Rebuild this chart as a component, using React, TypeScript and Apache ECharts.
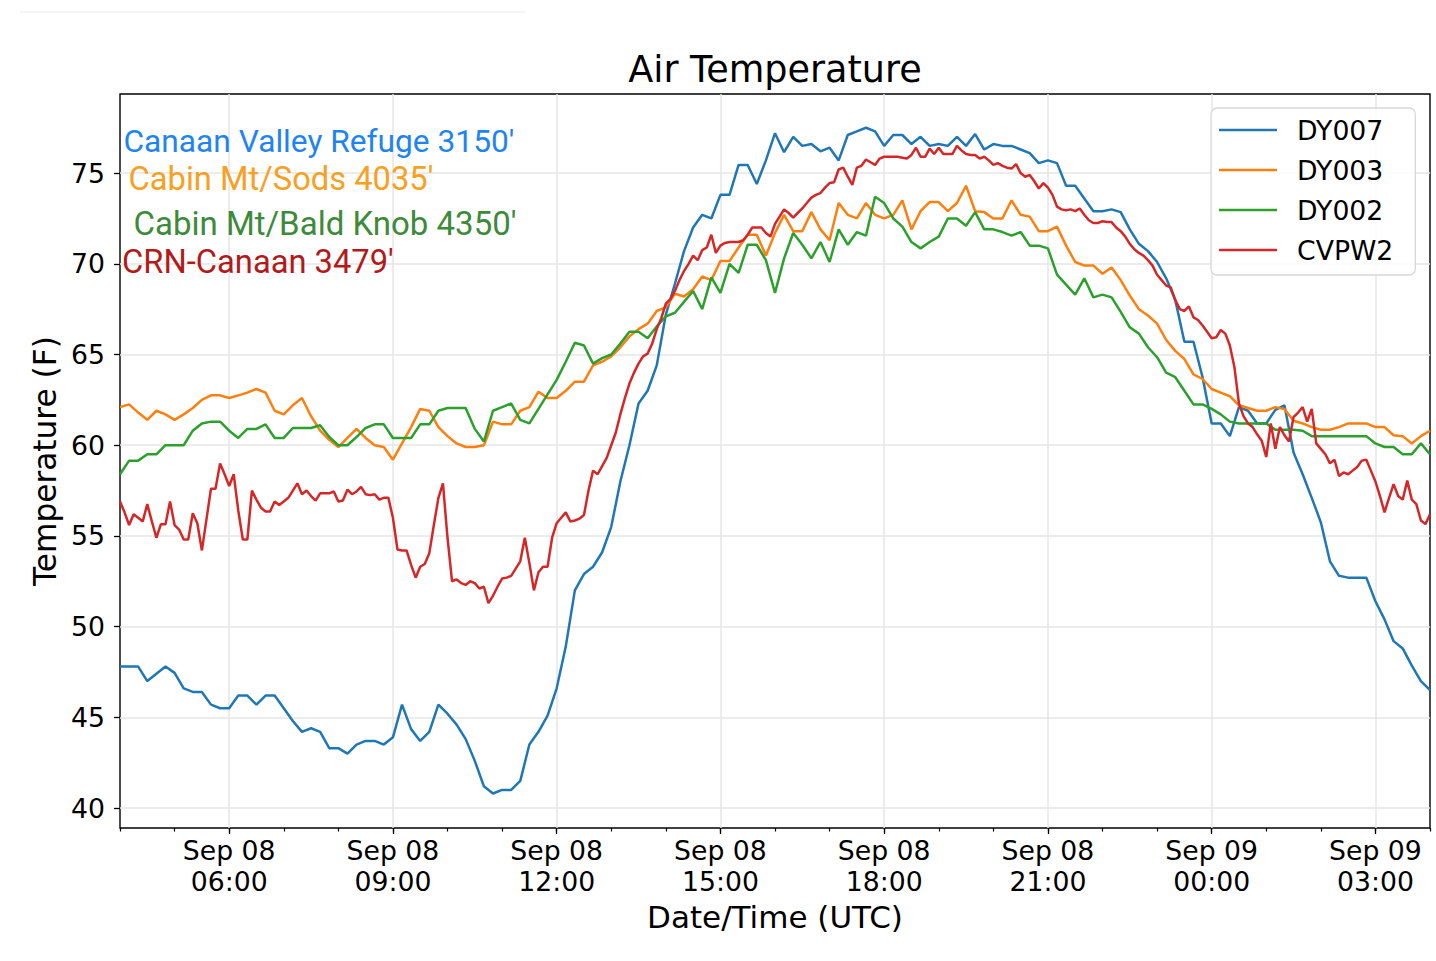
import * as echarts from "echarts";
import { useEffect, useRef } from "react";

// time is counted in hours after Sep 08 00:00 UTC
const startHour = 4;
const endHour = 28;
const dyStepMin = 10;
const cvpw2StepMin = 5;

// DY007, 10 min steps from 04:00
const dy007 = [
  47.8, 47.8, 47.8, 47.0, 47.4, 47.8, 47.45, 46.6, 46.4, 46.4,
  45.7, 45.5, 45.5, 46.2, 46.2, 45.7, 46.2, 46.2, 45.5, 44.8,
  44.2, 44.4, 44.2, 43.3, 43.3, 43.0, 43.5, 43.7, 43.7, 43.5,
  43.9, 45.7, 44.35, 43.7, 44.2, 45.7, 45.2, 44.6, 43.8, 42.6,
  41.2, 40.8, 41.0, 41.0, 41.5, 43.5, 44.2, 45.1, 46.6, 48.9,
  52.0, 52.9, 53.3, 54.1, 55.5, 58.0, 60.0, 62.3, 63.0, 64.4,
  67.2, 68.9, 70.7, 72.0, 72.7, 72.5, 73.8, 73.8, 75.45, 75.45,
  74.4, 75.7, 77.2, 76.15, 77.0, 76.5, 76.6, 76.2, 76.4, 75.7,
  77.1, 77.3, 77.5, 77.3, 76.5, 77.1, 77.1, 76.6, 77.0, 76.5,
  76.6, 76.5, 77.0, 76.5, 77.15, 76.3, 76.6, 76.5, 76.5, 76.3,
  76.1, 75.55, 75.7, 75.55, 74.3, 74.3, 73.6, 72.9, 72.9, 73.0,
  72.85, 71.9, 71.1, 70.7, 70.1, 69.2, 68.0, 65.7, 65.7, 63.75,
  61.2, 61.2, 60.5, 62.1, 61.9, 61.2, 61.2, 61.95, 62.2, 59.6,
  58.4, 57.1, 55.75, 53.6, 52.8, 52.7, 52.7, 52.7, 51.4, 50.4,
  49.2, 48.8, 47.85, 47.0, 46.5,
];

// DY003, 10 min steps
const dy003 = [
  62.1, 62.25, 61.8, 61.4, 61.9, 61.7, 61.4, 61.7, 62.05, 62.5,
  62.75, 62.75, 62.6, 62.75, 62.9, 63.1, 62.9, 61.9, 61.7, 62.2,
  62.6, 61.6, 60.8, 60.3, 59.9, 60.4, 60.9, 60.4, 60.0, 59.9,
  59.2, 60.1, 61.0, 62.0, 61.9, 61.0, 60.5, 60.1, 59.9, 59.9,
  60.0, 61.3, 61.15, 61.15, 61.9, 62.1, 62.95, 62.6, 62.6, 63.0,
  63.5, 63.5, 64.4, 64.6, 64.9, 65.4, 66.0, 66.4, 66.7, 67.4,
  67.6, 68.35, 68.2, 68.6, 69.3, 69.1, 70.15, 70.15, 70.9, 71.6,
  71.6, 70.45, 71.7, 72.7, 71.8, 71.8, 72.85, 71.9, 71.3, 73.35,
  72.7, 72.5, 73.35, 72.7, 72.5, 72.7, 73.5, 71.9, 72.9, 73.4,
  73.4, 72.9, 73.35, 74.3, 72.9, 72.85, 72.5, 72.5, 73.5, 72.7,
  72.6, 71.8, 71.8, 72.05, 71.0, 70.1, 69.9, 69.9, 69.45, 69.8,
  69.1, 68.25, 67.5, 67.15, 66.7, 65.8, 65.2, 64.75, 63.9, 63.65,
  63.1, 62.9, 62.7, 62.2, 62.05, 61.9, 61.9, 62.1, 62.0, 61.35,
  61.2, 61.0, 60.85, 60.85, 61.0, 61.2, 61.2, 61.2, 61.0, 61.0,
  60.55, 60.5, 60.1, 60.5, 60.8,
];

// DY002, 10 min steps
const dy002 = [
  58.4, 59.15, 59.15, 59.5, 59.5, 60.0, 60.0, 60.0, 60.8, 61.2,
  61.3, 61.3, 60.8, 60.4, 60.9, 60.9, 61.15, 60.4, 60.4, 60.95,
  60.95, 60.95, 61.1, 60.45, 60.0, 60.0, 60.45, 60.95, 61.15, 61.15,
  60.4, 60.4, 60.4, 61.15, 61.15, 61.9, 62.05, 62.05, 62.05, 60.9,
  60.2, 61.9, 62.1, 62.3, 61.4, 61.2, 62.0, 62.8, 63.6, 64.6,
  65.65, 65.5, 64.5, 64.8, 65.0, 65.6, 66.25, 66.25, 65.9, 66.55,
  67.1, 67.3, 67.9, 68.5, 67.5, 69.25, 68.4, 70.0, 69.5, 71.05,
  71.05, 70.2, 68.4, 70.3, 71.7, 71.05, 70.3, 71.2, 70.1, 71.9,
  71.05, 71.75, 71.55, 73.7, 73.35, 72.5, 72.05, 71.2, 70.85, 71.2,
  71.5, 72.5, 72.5, 72.1, 72.85, 71.9, 71.9, 71.75, 71.55, 71.75,
  71.0, 71.0, 70.85, 69.4, 68.85, 68.3, 69.2, 68.15, 68.3, 68.15,
  67.35, 66.5, 66.15, 65.4, 64.85, 64.0, 63.75, 63.0, 62.25, 62.25,
  62.0, 61.7, 61.3, 61.2, 61.2, 61.2, 61.2, 60.85, 60.85, 60.85,
  60.8, 60.5, 60.5, 60.5, 60.5, 60.5, 60.5, 60.5, 60.1, 59.9,
  59.9, 59.5, 59.5, 60.1, 59.5,
];

// CVPW2, 5 min steps
const cvpw2 = [
  56.9, 56.3, 55.6, 56.2, 56.0, 55.8, 56.75, 55.8, 54.9, 55.65,
  55.65, 56.9, 55.6, 55.35, 54.8, 54.8, 56.25, 55.7, 54.2, 55.9,
  57.6, 57.6, 59.0, 58.4, 57.75, 58.4, 56.4, 54.8, 54.8, 57.5,
  57.0, 56.55, 56.35, 56.35, 56.9, 56.7, 56.9, 57.1, 57.5, 57.9,
  57.3, 57.5, 57.2, 56.95, 57.35, 57.35, 57.35, 57.45, 56.9, 56.95,
  57.55, 57.3, 57.45, 57.7, 57.3, 57.25, 57.3, 57.0, 57.1, 57.1,
  56.0, 54.25, 54.2, 54.2, 53.4, 52.7, 53.3, 53.45, 54.05, 55.6,
  57.1, 57.9, 54.9, 52.5, 52.6, 52.4, 52.3, 52.5, 52.4, 52.1,
  52.2, 51.3, 51.7, 52.2, 52.65, 52.7, 52.8, 53.2, 53.6, 54.9,
  53.5, 52.0, 53.0, 53.3, 53.3, 54.9, 55.7, 56.0, 56.3, 55.8,
  55.85, 55.95, 56.15, 57.5, 58.6, 58.4, 58.85, 59.3, 60.0, 60.7,
  61.7, 62.6, 63.4, 64.0, 64.5, 64.9, 65.05, 65.6, 66.4, 67.0,
  67.8, 68.05, 68.5, 69.1, 69.6, 70.0, 70.45, 70.2, 70.75, 70.9,
  71.6, 70.6, 71.0, 71.15, 71.2, 71.2, 71.2, 71.3, 71.6, 72.0,
  72.0, 72.0, 71.7, 71.5, 72.2, 72.6, 73.0, 72.8, 72.55, 72.8,
  73.05, 73.35, 73.65, 73.8, 73.9, 74.2, 74.45, 74.5, 75.2, 75.3,
  74.8, 74.35, 75.3, 75.4, 75.75, 75.6, 75.45, 75.8, 75.9, 75.9,
  75.9, 75.9, 75.85, 75.8, 76.0, 76.4, 75.9, 75.9, 76.35, 76.05,
  76.4, 76.05, 76.05, 76.05, 76.5, 76.25, 76.05, 76.0, 76.0, 75.8,
  75.9, 75.7, 75.45, 75.55, 75.4, 75.3, 75.25, 75.5, 75.0, 74.8,
  74.9, 74.55, 74.15, 74.45, 74.2, 73.8, 73.15, 73.0, 72.95, 73.0,
  72.9, 73.05, 72.7, 72.4, 72.25, 72.25, 72.35, 72.3, 72.3, 72.0,
  71.8, 71.5, 71.1, 70.8, 70.6, 70.45, 70.2, 69.9, 69.4, 69.1,
  68.8, 68.7, 68.0, 67.5, 67.4, 67.65, 67.05, 66.9, 66.6, 66.25,
  65.9, 65.95, 66.35, 66.15, 65.5, 64.3, 62.3, 61.6, 61.2, 61.0,
  60.6, 60.25, 59.35, 61.2, 59.8, 61.0, 60.55, 60.2, 61.55, 61.8,
  62.1, 61.3, 62.0, 60.1, 59.8, 59.5, 59.0, 59.2, 58.3, 58.5,
  58.4, 58.6, 58.8, 59.15, 59.2, 58.6, 58.0, 57.2, 56.3, 57.1,
  57.85, 57.2, 57.0, 58.05, 57.0, 56.75, 55.85, 55.65, 56.2,
];

const seriesNames = ["DY007", "DY003", "DY002", "CVPW2"];
const seriesValues = [dy007, dy003, dy002, cvpw2];
const seriesSteps = [dyStepMin, dyStepMin, dyStepMin, cvpw2StepMin];
const seriesColors = ["#1f77b4", "#ff7f0e", "#2ca02c", "#d62728"];

const xTickHours = [6, 9, 12, 15, 18, 21, 24, 27];
const xTickLabels = [
  "Sep 08\n06:00",
  "Sep 08\n09:00",
  "Sep 08\n12:00",
  "Sep 08\n15:00",
  "Sep 08\n18:00",
  "Sep 08\n21:00",
  "Sep 09\n00:00",
  "Sep 09\n03:00",
];
const yTicks = [40, 45, 50, 55, 60, 65, 70, 75];

const stationLabels = [
  "Canaan Valley Refuge 3150'",
  "Cabin Mt/Sods 4035'",
  "Cabin Mt/Bald Knob 4350'",
  "CRN-Canaan 3479'",
];
const stationColors = ["#1f84f2", "#f7a022", "#3c8a3a", "#b3191a"];
// x, y, font size
const stationPos = [
  [123.5, 141.5, 31.7],
  [128.5, 179, 32.7],
  [133.5, 223, 33],
  [122, 262, 32.7],
];

const toPairs = (values: number[], stepMin: number) =>
  values.map((v, i) => [startHour + (i * stepMin) / 60, v]);

const font = "DejaVu Sans";

export default function App() {
  const chartRef = useRef<HTMLDivElement>(null);

  useEffect(() => {
    if (!chartRef.current) return;
    const chart = echarts.init(chartRef.current, undefined, { renderer: "svg" });
    chart.setOption({
      animation: false,
      backgroundColor: "#fff",
      grid: {
        left: 120,
        top: 94,
        width: 1310,
        height: 734,
        show: true,
        borderColor: "#000",
        borderWidth: 1.4,
      },
      legend: {
        orient: "vertical",
        left: 1211,
        top: 108,
        padding: [7, 22, 10, 8],
        itemWidth: 58,
        itemHeight: 2.7,
        itemGap: 10,
        icon: "rect",
        data: seriesNames,
        textStyle: {
          fontFamily: font,
          fontSize: 26.7,
          color: "#000",
          lineHeight: 30,
          padding: [0, 0, 0, 15],
        },
        backgroundColor: "rgba(255,255,255,0.85)",
        borderColor: "#d8d8d8",
        borderWidth: 1.3,
        borderRadius: 6,
      },
      xAxis: [
        {
          type: "value",
          min: startHour,
          max: endHour,
          name: "Date/Time (UTC)",
          nameLocation: "middle",
          nameGap: 73,
          nameTextStyle: { fontFamily: font, fontSize: 31, color: "#000" },
          axisLine: { show: false },
          axisTick: {
            show: true,
            length: 6,
            customValues: xTickHours,
            lineStyle: { color: "#000", width: 1.3 },
          },
          axisLabel: {
            customValues: xTickHours,
            margin: 7,
            fontFamily: font,
            fontSize: 26.7,
            lineHeight: 31,
            color: "#000",
            formatter: (v: number) => xTickLabels[xTickHours.indexOf(Math.round(v))] ?? "",
          },
          splitLine: { show: true, lineStyle: { color: "#e6e6e6", width: 1.5 } },
        },
        {
          type: "value",
          min: startHour,
          max: endHour,
          interval: 1,
          position: "bottom",
          axisLine: { show: false },
          axisTick: { show: true, length: 3.5, lineStyle: { color: "#000", width: 1.2 } },
          axisLabel: { show: false },
          splitLine: { show: false },
        },
      ],
      yAxis: {
        type: "value",
        min: 38.9,
        max: 79.36,
        name: "Temperature (F)",
        nameLocation: "middle",
        nameRotate: 90,
        nameGap: 59,
        nameTextStyle: { fontFamily: font, fontSize: 31.2, color: "#000" },
        axisLine: { show: false },
        axisTick: {
          show: true,
          length: 6,
          customValues: yTicks,
          lineStyle: { color: "#000", width: 1.3 },
        },
        axisLabel: {
          customValues: yTicks,
          margin: 15,
          fontFamily: font,
          fontSize: 26.7,
          color: "#000",
        },
        splitLine: { show: true, lineStyle: { color: "#e6e6e6", width: 1.5 } },
      },
      graphic: [
        {
          type: "line",
          shape: { x1: 20, y1: 12, x2: 525, y2: 12 },
          style: { stroke: "#f2f2f2", lineWidth: 1.5 },
        },
        {
          type: "text",
          x: 775,
          y: 69,
          style: {
            text: "Air Temperature",
            fill: "#000",
            fontFamily: font,
            fontSize: 36.6,
            align: "center",
            verticalAlign: "middle",
          },
        },
        ...stationLabels.map((text, k) => ({
          type: "text",
          x: stationPos[k][0],
          y: stationPos[k][1],
          z: 10,
          style: {
            text,
            fill: stationColors[k],
            fontFamily: "Roboto",
            fontSize: stationPos[k][2],
            verticalAlign: "middle",
          },
        })),
      ],
      series: seriesNames.map((name, k) => ({
        name,
        type: "line",
        xAxisIndex: 0,
        data: toPairs(seriesValues[k], seriesSteps[k]),
        symbol: "none",
        showSymbol: false,
        clip: true,
        color: seriesColors[k],
        lineStyle: { width: 2.5, color: seriesColors[k] },
        emphasis: { disabled: true },
        z: 2 + k,
      })),
    });
    return () => chart.dispose();
  }, []);

  return (
    <div
      ref={chartRef}
      style={{ position: "fixed", left: 0, top: 0, width: 1436, height: 961, background: "#fff" }}
    />
  );
}
